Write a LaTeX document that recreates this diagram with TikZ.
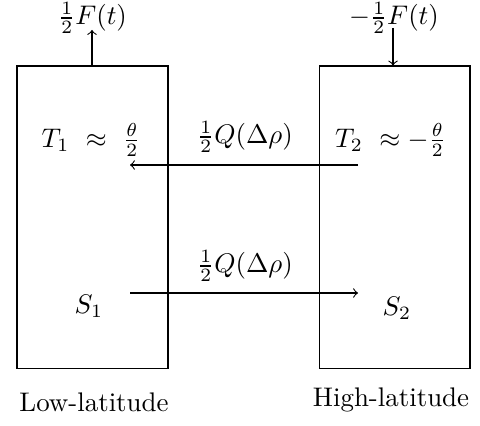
\documentclass[tikz,border=0pt]{standalone}
\begin{document}
\begin{tikzpicture}[x=0.3717pt,y=-0.3717pt,
  box/.style={draw,minimum width=56.1pt,minimum height=112.6pt,inner sep=0pt},
  lbl/.style={inner sep=0pt},
  flow/.style={->}]
\useasboundingbox (0,0) rectangle (480,426);
\node[box] (low) at (92.5,217.5) {};
\node[box] (high) at (394.5,217.5) {};
\node[lbl] (T1) at (91,140) {$T_1\ \approx\ \frac{\theta}{2}$};
\node[lbl] (T2) at (390.5,140) {$T_2\ \approx -\frac{\theta}{2}$};
\node[lbl] (S1) at (89,306) {$S_1$};
\node[lbl] (S2) at (397,308) {$S_2$};
\node[lbl] (Ftop) at (92.5,18) {$\frac12F(t)$};
\node[lbl] (Fright) at (394,18) {$-\frac12F(t)$};
\node[lbl] (Q1) at (245,137) {$\frac12Q(\Delta\rho)$};
\node[lbl] (Q2) at (245,266) {$\frac12Q(\Delta\rho)$};
\node[lbl] (LL) at (94,402) {Low-latitude};
\node[lbl] (HL) at (391,400) {High-latitude};
\coordinate (a1) at (358,165);
\coordinate (a2) at (130,165);
\coordinate (b1) at (130,293);
\coordinate (b2) at (358,293);
\coordinate (f1) at (92,30);
\coordinate (f2) at (393,28);
\draw[flow] (a1) -- (a2);
\draw[flow] (b1) -- (b2);
\draw[flow] (low.north -| f1) -- (f1);
\draw[flow] (f2) -- (high.north -| f2);
\end{tikzpicture}
\end{document}
